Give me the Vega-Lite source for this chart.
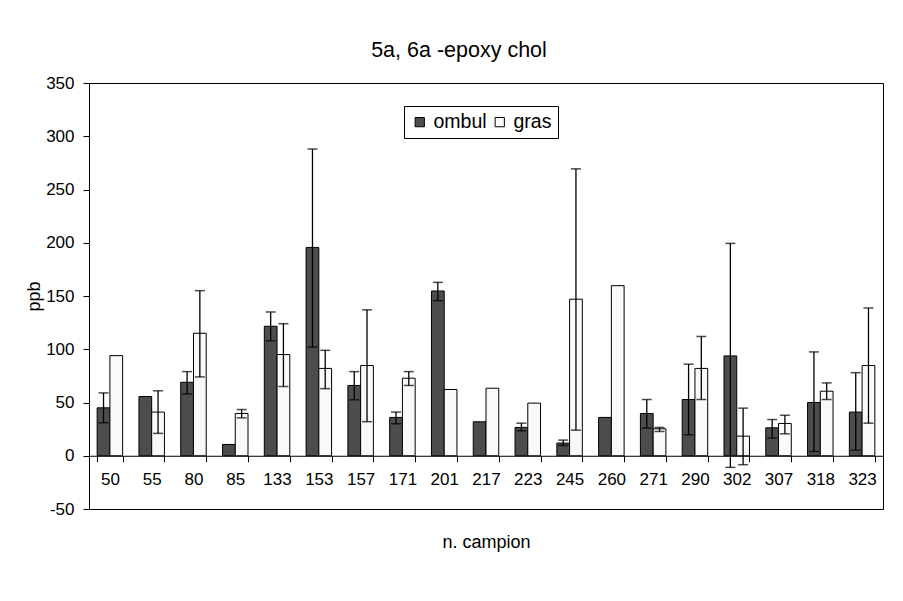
{
  "$schema": "https://vega.github.io/schema/vega-lite/v6.json",
  "width": 794,
  "height": 426,
  "autosize": {"type": "none"},
  "padding": {"left": 89, "top": 83, "right": 20, "bottom": 92},
  "background": "white",
  "title": {
    "text": "5a, 6a -epoxy chol",
    "fontSize": 21.5,
    "fontWeight": "normal",
    "font": "Liberation Sans",
    "color": "black",
    "anchor": "middle",
    "baseline": "alphabetic",
    "offset": 26,
    "dx": -27,
    "dy": 30
  },
  "config": {
    "font": "Liberation Sans",
    "view": {"stroke": "black", "strokeWidth": 1},
    "axis": {
      "grid": false,
      "domainColor": "black",
      "tickColor": "black",
      "labelColor": "black",
      "titleColor": "black",
      "titleFontWeight": "normal",
      "labelFont": "Liberation Sans",
      "titleFont": "Liberation Sans"
    }
  },
  "data": {
    "values": [
      {"c": "50", "s": "ombul", "v": 45, "lo": 31, "hi": 59},
      {"c": "50", "s": "gras", "v": 94},
      {"c": "55", "s": "ombul", "v": 55.6},
      {"c": "55", "s": "gras", "v": 41, "lo": 21, "hi": 61},
      {"c": "80", "s": "ombul", "v": 69, "lo": 58, "hi": 79},
      {"c": "80", "s": "gras", "v": 115, "lo": 74, "hi": 155},
      {"c": "85", "s": "ombul", "v": 10.6},
      {"c": "85", "s": "gras", "v": 39.7, "lo": 35.6, "hi": 43.4},
      {"c": "133", "s": "ombul", "v": 121.6, "lo": 108, "hi": 135},
      {"c": "133", "s": "gras", "v": 95, "lo": 65, "hi": 124},
      {"c": "153", "s": "ombul", "v": 195.6, "lo": 102, "hi": 288},
      {"c": "153", "s": "gras", "v": 82, "lo": 63, "hi": 99},
      {"c": "157", "s": "ombul", "v": 66, "lo": 52.5, "hi": 79},
      {"c": "157", "s": "gras", "v": 84.7, "lo": 32, "hi": 137},
      {"c": "171", "s": "ombul", "v": 36, "lo": 30, "hi": 41},
      {"c": "171", "s": "gras", "v": 72.8, "lo": 66, "hi": 79},
      {"c": "201", "s": "ombul", "v": 154.7, "lo": 145.6, "hi": 162.8},
      {"c": "201", "s": "gras", "v": 62.2},
      {"c": "217", "s": "ombul", "v": 31.9},
      {"c": "217", "s": "gras", "v": 63.4},
      {"c": "223", "s": "ombul", "v": 26.6, "lo": 23.4, "hi": 30.6},
      {"c": "223", "s": "gras", "v": 49.4},
      {"c": "245", "s": "ombul", "v": 11.9, "lo": 9.7, "hi": 14.7},
      {"c": "245", "s": "gras", "v": 147, "lo": 24, "hi": 269.4},
      {"c": "260", "s": "ombul", "v": 36},
      {"c": "260", "s": "gras", "v": 159.7},
      {"c": "271", "s": "ombul", "v": 39.7, "lo": 26, "hi": 52.8},
      {"c": "271", "s": "gras", "v": 25.3, "lo": 22.8, "hi": 26.6},
      {"c": "290", "s": "ombul", "v": 52.8, "lo": 19.7, "hi": 86},
      {"c": "290", "s": "gras", "v": 82, "lo": 52.8, "hi": 112},
      {"c": "302", "s": "ombul", "v": 93.75, "lo": -10.9, "hi": 199.4},
      {"c": "302", "s": "gras", "v": 18.4, "lo": -8.4, "hi": 44.7},
      {"c": "307", "s": "ombul", "v": 26.25, "lo": 16.6, "hi": 34},
      {"c": "307", "s": "gras", "v": 30.3, "lo": 20.6, "hi": 38},
      {"c": "318", "s": "ombul", "v": 50, "lo": 4, "hi": 97.5},
      {"c": "318", "s": "gras", "v": 60.6, "lo": 52.8, "hi": 68.4},
      {"c": "323", "s": "ombul", "v": 41, "lo": 5.3, "hi": 78},
      {"c": "323", "s": "gras", "v": 84.7, "lo": 30.6, "hi": 138.75}
    ]
  },
  "encoding": {
    "x": {
      "field": "c",
      "type": "nominal",
      "sort": ["50","55","80","85","133","153","157","171","201","217","223","245","260","271","290","302","307","318","323"],
      "scale": {"paddingInner": 0.39, "paddingOuter": 0.195},
      "axis": {
        "orient": "bottom",
        "offset": -53.25,
        "title": "n. campion",
        "titleFontSize": 18,
        "titlePadding": 46,
        "labelAngle": 0,
        "labelFontSize": 17,
        "labelPadding": 10,
        "tickBand": "extent",
        "tickSize": 6,
        "domainWidth": 1
      }
    },
    "xOffset": {"field": "s", "type": "nominal", "sort": ["ombul", "gras"], "scale": {"paddingInner": 0, "paddingOuter": 0}}
  },
  "layer": [
    {
      "mark": {"type": "bar", "stroke": "black", "strokeWidth": 1},
      "encoding": {
        "y": {
          "field": "v",
          "type": "quantitative",
          "title": "ppb",
          "scale": {"domain": [-50, 350], "nice": false, "zero": false},
          "axis": {
            "values": [-50, 0, 50, 100, 150, 200, 250, 300, 350],
            "labelExpr": "'' + datum.value",
            "labelFontSize": 17,
            "labelPadding": 9,
            "tickSize": 6,
            "titleFontSize": 18,
            "titlePadding": 2
          }
        },
        "color": {
          "field": "s",
          "type": "nominal",
          "scale": {"domain": ["ombul", "gras"], "range": ["#4d4d4d", "#f9f9f9"]},
          "legend": {
            "title": null,
            "orient": "none",
            "legendX": 315,
            "legendY": 23,
            "direction": "horizontal",
            "columns": 2,
            "gridAlign": "all",
            "symbolType": "square",
            "symbolSize": 86,
            "symbolStrokeColor": "black",
            "symbolStrokeWidth": 1,
            "labelFontSize": 19.5,
            "labelColor": "black",
            "labelOffset": 4,
            "columnPadding": 3,
            "padding": 6,
            "strokeColor": "black",
            "fillColor": "white"
          }
        }
      }
    },
    {
      "mark": {"type": "rule", "color": "black", "strokeWidth": 1.3},
      "encoding": {
        "y": {"field": "lo", "type": "quantitative", "title": "ppb"},
        "y2": {"field": "hi"}
      }
    },
    {
      "mark": {"type": "tick", "color": "black", "size": 10, "thickness": 1.5},
      "encoding": {
        "y": {"field": "hi", "type": "quantitative", "title": "ppb"}
      }
    },
    {
      "mark": {"type": "tick", "color": "black", "size": 10, "thickness": 1.5},
      "encoding": {
        "y": {"field": "lo", "type": "quantitative", "title": "ppb"}
      }
    }
  ]
}
